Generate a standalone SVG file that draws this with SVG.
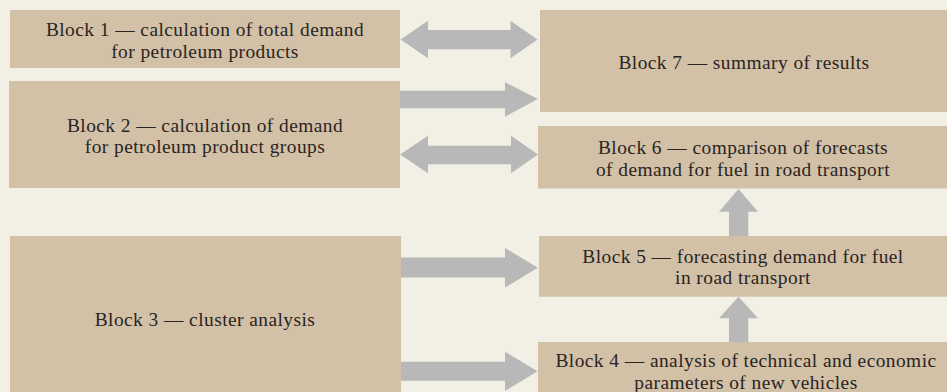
<svg xmlns="http://www.w3.org/2000/svg" width="947" height="392" viewBox="0 0 947 392">
<style>
.bg{fill:#F2EFE5}
.blk{fill:#D2C0A7}
.arr{fill:#B8B8B8}
text{font-family:"Liberation Serif","Times New Roman",serif;font-size:19.4px;letter-spacing:0.45px;fill:#2A2522;text-anchor:middle}
</style>
<rect class="bg" x="0" y="0" width="947" height="392"/>
<g id="connectors">
<polygon class="arr" points="400.5,39.5 428,20.7 428,30 510.5,30 510.5,20.7 537.5,39.5 510.5,58.3 510.5,49.3 428,49.3 428,58.3"/>
<polygon class="arr" points="400,90.7 505,90.7 505,82.3 538,99 505,116.7 505,108.3 400,108.3"/>
<polygon class="arr" points="400,154.5 428,135.7 428,145.7 511,145.7 511,135.7 538,154.5 511,173.3 511,164.3 428,164.3 428,173.3"/>
<polygon class="arr" points="400,257.5 505,257.5 505,248 538,267.7 505,287.5 505,277.5 400,277.5"/>
<polygon class="arr" points="400,361.7 505,361.7 505,351.7 537.5,371.3 505,391 505,380.7 400,380.7"/>
<polygon class="arr" points="738.5,189 758,211.7 748.3,211.7 748.3,236 729,236 729,211.7 719,211.7"/>
<polygon class="arr" points="738.5,296.7 758,318.3 748.3,318.3 748.3,342 729,342 729,318.3 719,318.3"/>
</g>
<g id="block1">
<rect class="blk" x="10" y="10" width="390" height="58"/>
<text x="205" y="36">Block 1 — calculation of total demand</text>
<text x="205" y="57.6">for petroleum products</text>
</g>
<g id="block2">
<rect class="blk" x="9" y="81" width="391" height="107"/>
<text x="205" y="131.7">Block 2 — calculation of demand</text>
<text x="205" y="153.3">for petroleum product groups</text>
</g>
<g id="block3">
<rect class="blk" x="10" y="236" width="391" height="156"/>
<text x="205" y="326">Block 3 — cluster analysis</text>
</g>
<g id="block7">
<rect class="blk" x="540" y="10" width="407" height="102"/>
<text x="744" y="68.5">Block 7 — summary of results</text>
</g>
<g id="block6">
<rect class="blk" x="538" y="126" width="409" height="62.5"/>
<text x="743" y="154">Block 6 — comparison of forecasts</text>
<text x="743" y="175.6">of demand for fuel in road transport</text>
</g>
<g id="block5">
<rect class="blk" x="539" y="236" width="408" height="60.7"/>
<text x="743" y="262.7">Block 5 — forecasting demand for fuel</text>
<text x="743" y="284.3">in road transport</text>
</g>
<g id="block4">
<rect class="blk" x="538" y="342" width="409" height="50"/>
<text x="746" y="366.9">Block 4 — analysis of technical and economic</text>
<text x="746" y="388.5">parameters of new vehicles</text>
</g>
</svg>
